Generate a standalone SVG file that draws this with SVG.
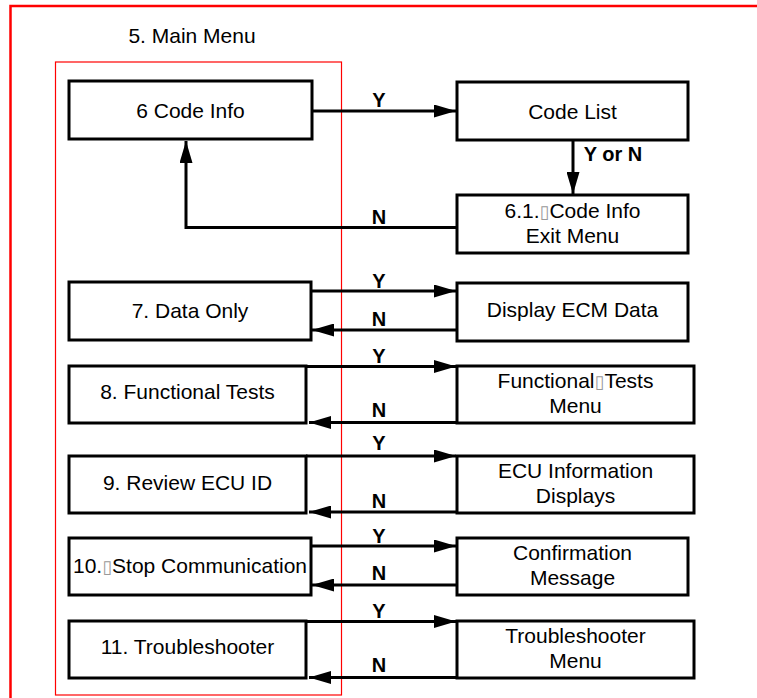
<svg xmlns="http://www.w3.org/2000/svg" width="757" height="698" viewBox="0 0 757 698">
<defs>
<marker id="ah" markerUnits="userSpaceOnUse" markerWidth="22" markerHeight="13" refX="22" refY="6.5" orient="auto">
<path d="M0,0 L22,6.5 L0,13 Z" fill="#000"/>
</marker>
<style>
.box{fill:#fff;stroke:#000;stroke-width:3}
.lbl{font-family:"Liberation Sans",Arial,sans-serif;font-size:21px;fill:#000;text-anchor:middle}
.yn{font-family:"Liberation Sans",Arial,sans-serif;font-size:20px;font-weight:bold;fill:#000;text-anchor:middle}
.con{fill:none;stroke:#000;stroke-width:3}
.arr{marker-end:url(#ah)}
.tofu{font-family:"DejaVu Sans",sans-serif;font-size:18px;fill:#999}
</style>
</defs>
<rect width="757" height="698" fill="#fff"/>
<rect x="10.5" y="6" width="760" height="710" fill="none" stroke="#f00" stroke-width="2.5"/>
<text x="192" y="43" class="lbl" style="text-anchor:middle">5. Main Menu</text>
<rect x="55.5" y="62" width="286" height="633" fill="none" stroke="#f00" stroke-width="1.2"/>

<g id="connectors">
<line class="con arr" x1="312" y1="111" x2="456" y2="111"/>
<line class="con arr" x1="573" y1="141" x2="573" y2="194"/>
<polyline class="con arr" points="457,227.5 186,227.5 186,141"/>
<line class="con arr" x1="311" y1="291" x2="456" y2="291"/>
<line class="con arr" x1="457" y1="330" x2="312" y2="330"/>
<line class="con arr" x1="306" y1="366.5" x2="456" y2="366.5"/>
<line class="con arr" x1="457" y1="422.5" x2="309" y2="422.5"/>
<line class="con arr" x1="306" y1="456" x2="456" y2="456"/>
<line class="con arr" x1="457" y1="512" x2="309" y2="512"/>
<line class="con arr" x1="311" y1="546" x2="456" y2="546"/>
<line class="con arr" x1="457" y1="585" x2="312" y2="585"/>
<line class="con arr" x1="306" y1="621.5" x2="456" y2="621.5"/>
<line class="con arr" x1="457" y1="677.5" x2="309" y2="677.5"/>
<text x="379" y="107" class="yn">Y</text>
<text x="613" y="161" class="yn">Y or N</text>
<text x="379" y="224" class="yn">N</text>
<text x="379" y="288" class="yn">Y</text>
<text x="379" y="326" class="yn">N</text>
<text x="379" y="363" class="yn">Y</text>
<text x="379" y="417" class="yn">N</text>
<text x="379" y="450" class="yn">Y</text>
<text x="379" y="508" class="yn">N</text>
<text x="379" y="543" class="yn">Y</text>
<text x="379" y="580" class="yn">N</text>
<text x="379" y="618" class="yn">Y</text>
<text x="379" y="672" class="yn">N</text>
</g>

<g id="n6">
<rect class="box" x="69" y="81" width="243" height="58"/>
<text class="lbl" x="190.5" y="118">6 Code Info</text>
</g>
<g id="codelist">
<rect class="box" x="457" y="82" width="231" height="58"/>
<text class="lbl" x="572.5" y="119">Code List</text>
</g>
<g id="n61">
<rect class="box" x="457" y="195" width="231" height="58"/>
<text class="lbl" x="572.5" y="218">6.1.<tspan class="tofu">▯</tspan>Code Info</text>
<text class="lbl" x="572.5" y="243">Exit Menu</text>
</g>
<g id="n7">
<rect class="box" x="69" y="282" width="242" height="58"/>
<text class="lbl" x="190" y="318">7. Data Only</text>
</g>
<g id="ecm">
<rect class="box" x="457" y="283" width="231" height="58"/>
<text class="lbl" x="572.5" y="317">Display ECM Data</text>
</g>
<g id="n8">
<rect class="box" x="69" y="366" width="237" height="57"/>
<text class="lbl" x="187.5" y="399">8. Functional Tests</text>
</g>
<g id="ftm">
<rect class="box" x="457" y="366" width="237" height="57"/>
<text class="lbl" x="575.5" y="388">Functional<tspan class="tofu">▯</tspan>Tests</text>
<text class="lbl" x="575.5" y="413">Menu</text>
</g>
<g id="n9">
<rect class="box" x="69" y="456" width="237" height="57"/>
<text class="lbl" x="187.5" y="490">9. Review ECU ID</text>
</g>
<g id="ecu">
<rect class="box" x="457" y="456" width="237" height="57"/>
<text class="lbl" x="575.5" y="478">ECU Information</text>
<text class="lbl" x="575.5" y="503">Displays</text>
</g>
<g id="n10">
<rect class="box" x="69" y="538" width="242" height="57"/>
<text class="lbl" x="190" y="573">10.<tspan class="tofu">▯</tspan>Stop Communication</text>
</g>
<g id="conf">
<rect class="box" x="457" y="538" width="231" height="57"/>
<text class="lbl" x="572.5" y="560">Confirmation</text>
<text class="lbl" x="572.5" y="585">Message</text>
</g>
<g id="n11">
<rect class="box" x="69" y="621" width="237" height="57"/>
<text class="lbl" x="187.5" y="654">11. Troubleshooter</text>
</g>
<g id="tsm">
<rect class="box" x="457" y="621" width="237" height="57"/>
<text class="lbl" x="575.5" y="643">Troubleshooter</text>
<text class="lbl" x="575.5" y="668">Menu</text>
</g>
</svg>
